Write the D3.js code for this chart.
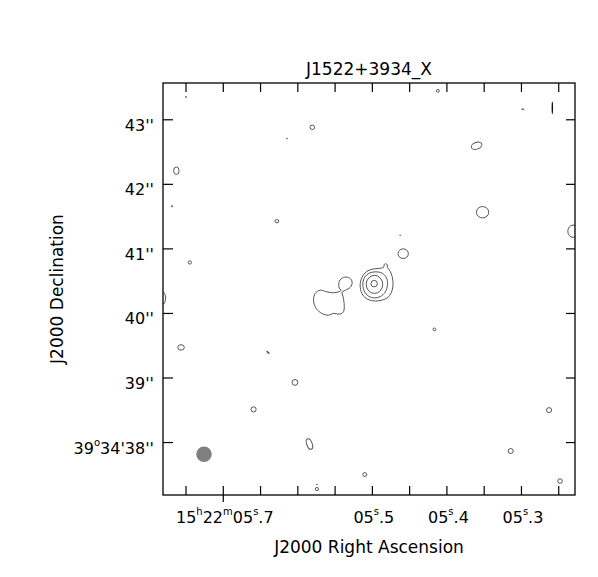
<!DOCTYPE html>
<html lang="en">
    <head>
        <meta charset="UTF-8">
        <script src="https://cdn.jsdelivr.net/npm/d3@7"></script>
        <title>J1522+3934_X</title>
        <style>
            body { margin: 0; background: #fff; }
            text { font-family: "DejaVu Sans", sans-serif; fill: #000; }
            .axis .tick line { stroke: #000; stroke-width: 1.2; }
            .axis .domain { display: none; }
            .contour { fill: none; stroke: #555; stroke-width: 1; }
        </style>
    </head>
    <body>
        <div id="canvas"></div>

        <script>
            // field: RA seconds of 15h22m, Dec arcsec of +39d34m
            var raRange = [5.7802, 5.2275];
            var decRange = [37.18, 43.562];
            var decDeg = 39 + 34 / 60 + 40 / 3600;

            var raTicks = [5.75, 5.70, 5.65, 5.60, 5.55, 5.50, 5.45, 5.40, 5.35, 5.30, 5.25];
            var raMajor = [5.70];
            var raLabelAt = [5.70, 5.50, 5.40, 5.30];
            var raLabels = ["15^h22^m05^s.7", "05^s.5", "05^s.4", "05^s.3"];
            var decTicks = [38, 39, 40, 41, 42, 43];
            var decLabels = ["39^o34'38''", "39''", "40''", "41''", "42''", "43''"];

            // brightest component (RA s, Dec ")
            var peak = [5.49625, 40.4536];

            // contours round the peak, offsets in arcsec [east, north]
            var peakOuter = [
                [-0.140, 0.255], [-0.147, 0.294], [-0.171, 0.310], [-0.194, 0.294],
                [-0.198, 0.248], [-0.240, 0.193], [-0.282, 0.054], [-0.271, -0.101],
                [-0.214, -0.204], [-0.112, -0.255], [0.019, -0.266], [0.132, -0.229],
                [0.198, -0.152], [0.225, -0.023], [0.198, 0.096], [0.132, 0.183],
                [0.039, 0.224], [-0.054, 0.235]
            ];
            var peakSecond = [
                [-0.008, 0.183], [-0.116, 0.163], [-0.186, 0.085], [-0.198, -0.023],
                [-0.163, -0.132], [-0.085, -0.201], [0.023, -0.220], [0.116, -0.178],
                [0.171, -0.093], [0.183, 0.008], [0.155, 0.101], [0.085, 0.163]
            ];
            // inner rings [east, north, rEW, rNS]
            var peakRings = [
                [0.003, -0.011, 0.128, 0.140],
                [0.008, 0.000, 0.050, 0.050]
            ];
            // extended emission to the east
            var eastBlob = [
                [0.524, -0.111], [0.555, -0.050], [0.546, 0.043], [0.484, 0.096],
                [0.406, 0.096], [0.353, 0.043], [0.364, -0.039], [0.431, -0.090],
                [0.504, -0.132], [0.493, -0.193], [0.473, -0.307], [0.484, -0.437],
                [0.535, -0.472], [0.639, -0.461], [0.716, -0.488], [0.819, -0.461],
                [0.907, -0.384], [0.949, -0.255], [0.922, -0.152], [0.845, -0.101],
                [0.741, -0.127], [0.639, -0.142], [0.561, -0.127]
            ];

            // noise islands [RA s, Dec ", rEW ", rNS ", tilt deg]
            var islands = [
                [5.7493, 43.345, 0.008, 0.008, 0],
                [5.4115, 43.441, 0.024, 0.022, 0],
                [5.2976, 43.155, 0.018, 0.006, 0],
                [5.2579, 43.178, 0.003, 0.090, 0],
                [5.5800, 42.876, 0.035, 0.035, 0],
                [5.6139, 42.701, 0.008, 0.006, 0],
                [5.3595, 42.590, 0.085, 0.052, -20],
                [5.7623, 42.203, 0.042, 0.058, 0],
                [5.7681, 41.653, 0.010, 0.010, 0],
                [5.3515, 41.560, 0.095, 0.088, 0],
                [5.6274, 41.421, 0.030, 0.025, 0],
                [5.4580, 40.918, 0.080, 0.075, 0],
                [5.4621, 41.204, 0.006, 0.006, 0],
                [5.7442, 40.782, 0.025, 0.025, 0],
                [5.2302, 41.266, 0.080, 0.095, 0],
                [5.7811, 40.229, 0.050, 0.100, 0],
                [5.4161, 39.745, 0.022, 0.022, 0],
                [5.7560, 39.466, 0.051, 0.042, 0],
                [5.6394, 39.389, 0.025, 0.006, 40],
                [5.6032, 38.924, 0.045, 0.045, 0],
                [5.6587, 38.506, 0.040, 0.040, 0],
                [5.2623, 38.495, 0.040, 0.038, 0],
                [5.5837, 37.969, 0.042, 0.085, -20],
                [5.3137, 37.861, 0.040, 0.038, 0],
                [5.5095, 37.497, 0.030, 0.030, 0],
                [5.2476, 37.396, 0.035, 0.035, 0],
                [5.5737, 37.272, 0.025, 0.025, 0],
                [5.5737, 37.342, 0.006, 0.006, 0]
            ];

            // restoring beam [RA s, Dec ", major ", minor "]
            var beam = [5.7252, 37.810, 0.24, 0.24];

            var margin = {top: 83, left: 163},
                W = 412, H = 412;

            var svg = d3.select("#canvas").append("svg")
                    .attr("width", 598)
                    .attr("height", 577);

            var g = svg.append("g")
                    .attr("transform", "translate(" + margin.left + "," + margin.top + ")");

            var x = d3.scaleLinear().domain(raRange).range([0, W]);
            var y = d3.scaleLinear().domain(decRange).range([H, 0]);

            var pxPerArcsec = Math.abs(y(1) - y(0));
            var raPerArcsec = 1 / (15 * Math.cos(decDeg * Math.PI / 180));

            function sky(o) {
                return [x(peak[0] + o[0] * raPerArcsec), y(peak[1] + o[1])];
            }

            g.append("clipPath").attr("id", "box")
                .append("rect").attr("width", W).attr("height", H);

            var maps = g.append("g").attr("clip-path", "url(#box)");

            var line = d3.line().curve(d3.curveCatmullRomClosed.alpha(0.5));

            maps.selectAll("path.contour")
                .data([peakOuter, peakSecond, eastBlob])
                .enter().append("path")
                .attr("class", "contour")
                .attr("d", function (d) { return line(d.map(sky)); });

            maps.selectAll("ellipse.ring")
                .data(peakRings)
                .enter().append("ellipse")
                .attr("class", "contour ring")
                .attr("cx", function (d) { return sky(d)[0]; })
                .attr("cy", function (d) { return sky(d)[1]; })
                .attr("rx", function (d) { return d[2] * pxPerArcsec; })
                .attr("ry", function (d) { return d[3] * pxPerArcsec; });

            maps.selectAll("ellipse.island")
                .data(islands)
                .enter().append("ellipse")
                .attr("class", "contour island")
                .attr("rx", function (d) { return d[2] * pxPerArcsec; })
                .attr("ry", function (d) { return d[3] * pxPerArcsec; })
                .attr("transform", function (d) {
                    return "translate(" + x(d[0]) + "," + y(d[1]) + ") rotate(" + d[4] + ")";
                })
                .style("stroke", function (d) { return d[3] > 0.08 && d[2] < 0.01 ? "#111" : null; })
                .style("stroke-width", function (d) { return d[3] > 0.08 && d[2] < 0.01 ? 1.1 : null; });

            maps.append("ellipse")
                .attr("cx", x(beam[0]))
                .attr("cy", y(beam[1]))
                .attr("rx", beam[3] / 2 * pxPerArcsec)
                .attr("ry", beam[2] / 2 * pxPerArcsec)
                .attr("fill", "#808080");

            // ticks, all pointing inwards
            g.append("g").classed("axis", true)
                .attr("transform", "translate(0," + H + ")")
                .call(d3.axisBottom(x).tickValues(raTicks).tickSize(-9).tickFormat(""));
            g.append("g").classed("axis", true)
                .attr("transform", "translate(0," + H + ")")
                .call(d3.axisBottom(x).tickValues(raMajor).tickSize(7).tickFormat(""));
            g.append("g").classed("axis", true)
                .call(d3.axisTop(x).tickValues(raTicks).tickSize(-9).tickFormat(""));
            g.append("g").classed("axis", true)
                .call(d3.axisLeft(y).tickValues(decTicks).tickSize(-10).tickFormat(""));
            g.append("g").classed("axis", true)
                .attr("transform", "translate(" + W + ",0)")
                .call(d3.axisRight(y).tickValues(decTicks).tickSize(-9).tickFormat(""));

            g.append("rect")
                .attr("width", W).attr("height", H)
                .attr("fill", "none").attr("stroke", "#000").attr("stroke-width", 1.3);

            // "^" marks the next character as a superscript
            function writeLabel(sel, s) {
                var up = false;
                for (var i = 0; i < s.length; i++) {
                    if (s[i] === "^") {
                        sel.append("tspan").attr("font-size", 10).attr("dy", -8).text(s[i + 1]);
                        up = true;
                        i++;
                    } else {
                        var j = i;
                        while (j < s.length && s[j] !== "^") j++;
                        sel.append("tspan").attr("dy", up ? 8 : 0).text(s.slice(i, j));
                        up = false;
                        i = j - 1;
                    }
                }
            }

            g.selectAll("text.ra")
                .data(raLabelAt)
                .enter().append("text")
                .attr("class", "ra")
                .attr("x", function (d) { return x(d) + 2; })
                .attr("y", H + 27.5)
                .attr("text-anchor", "middle")
                .attr("font-size", 16)
                .each(function (d, i) { writeLabel(d3.select(this), raLabels[i]); });

            g.selectAll("text.dec")
                .data(decTicks)
                .enter().append("text")
                .attr("class", "dec")
                .attr("x", -9)
                .attr("y", function (d) { return y(d) + 11.5; })
                .attr("text-anchor", "end")
                .attr("font-size", 16)
                .each(function (d, i) { writeLabel(d3.select(this), decLabels[i]); });

            g.append("text")
                .attr("x", W / 2)
                .attr("y", -8)
                .attr("text-anchor", "middle")
                .attr("font-size", 17)
                .text("J1522+3934_X");

            g.append("text")
                .attr("x", W / 2)
                .attr("y", H + 58)
                .attr("text-anchor", "middle")
                .attr("font-size", 17)
                .text("J2000 Right Ascension");

            g.append("text")
                .attr("transform", "translate(-100," + (H / 2) + ") rotate(-90)")
                .attr("text-anchor", "middle")
                .attr("font-size", 17)
                .text("J2000 Declination");
        </script>
    </body>
</html>
